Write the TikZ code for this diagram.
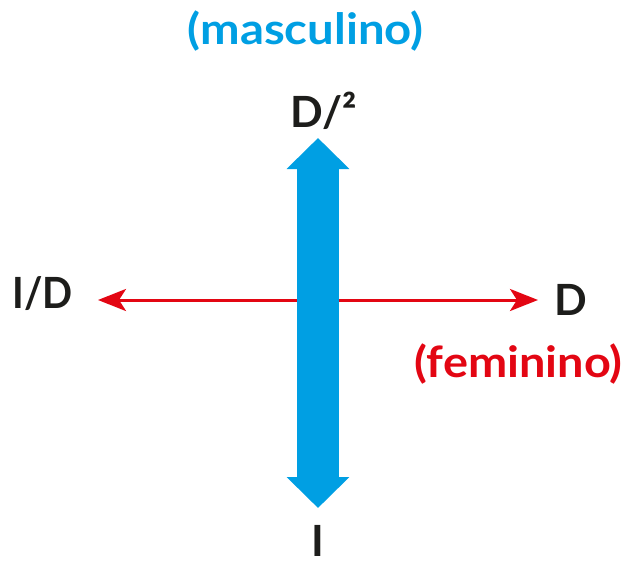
\documentclass[tikz,border=0pt]{standalone}
\usepackage{fontspec}
\setmainfont{Lato}
\usetikzlibrary{arrows.meta}
\definecolor{cblue}{HTML}{009FE3}
\definecolor{cred}{HTML}{E30613}
\definecolor{ctext}{HTML}{1D1D1B}
\begin{document}
\begin{tikzpicture}[x=1pt,y=-1pt,
  lbl/.style={anchor=base,inner sep=0pt,font=\fontsize{43}{50}\selectfont\bfseries,text=ctext},
  redarrow/.style={draw=cred,line width=3pt,{Stealth[length=28pt,width=22pt,inset=7pt]}-{Stealth[length=28pt,width=22pt,inset=7pt]}},
  bluearrow/.style={draw=cblue,line width=42pt,{Triangle[length=31pt,width=61pt]}-{Triangle[length=31pt,width=61pt]}}]
\useasboundingbox (0,0) rectangle (633,562);
\coordinate (top) at (318,138);
\coordinate (bot) at (318,508);
\coordinate (lft) at (98,300);
\coordinate (rgt) at (538,300);
\draw[redarrow] (lft) -- (rgt);
\draw[bluearrow] (top) -- (bot);
\node[lbl,text=cblue] (masc) at (305.5,44) {\scalebox{1.10}[1]{(masculino)}};
\node[lbl] (d2) at (324,127) {D/²};
\node[lbl] (id) at (42.5,308) {\scalebox{0.92}[1]{I/D}};
\node[lbl] (d) at (571,315) {D};
\node[lbl,text=cred] (fem) at (518.5,377) {\scalebox{1.09}[1]{(feminino)}};
\node[lbl,text depth=0pt] (i) at (318,556) {I};
\end{tikzpicture}
\end{document}
